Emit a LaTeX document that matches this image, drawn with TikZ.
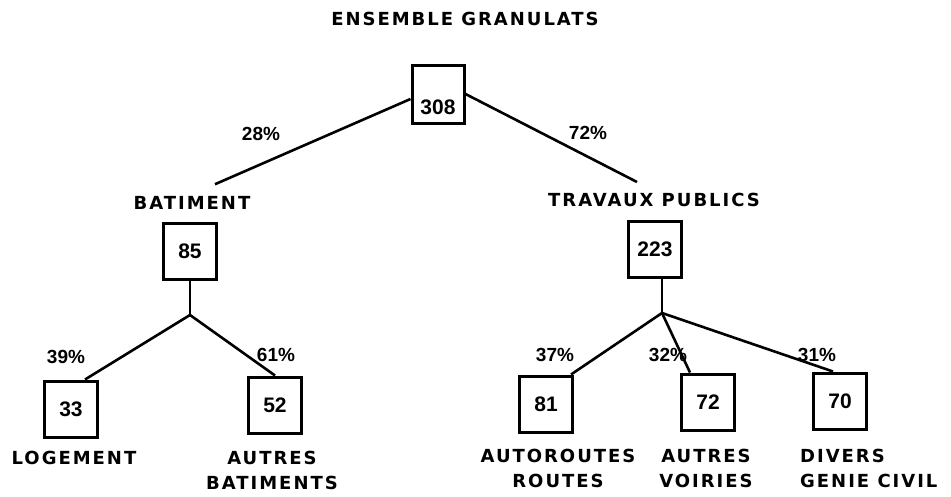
\documentclass[tikz,border=0pt]{standalone}
\usepackage{fontspec}
\setmainfont{Liberation Sans}
\newfontfamily\capsfont[LetterSpace=11]{DejaVu Sans}

\begin{document}
\begin{tikzpicture}[x=1pt, y=-1pt,
  every node/.style={font=\capsfont\bfseries\fontsize{18}{25}\selectfont},
  box/.style={draw, line width=3pt, minimum width=53pt, minimum height=56pt, inner sep=0pt, font=\bfseries\fontsize{21}{24}\selectfont},
  pct/.style={font=\bfseries\fontsize{19}{21}\selectfont},
  titre/.style={align=center, inner sep=2pt},
  branch/.style={line width=2.6pt}]

\useasboundingbox (0,0) rectangle (951,496);

% Root
\node (title) at (465,19) {ENSEMBLE GRANULATS};
\node[box, minimum width=52pt, minimum height=58pt, text height=40pt, text depth=0pt] (root) at (438,94) {308};

% Level 1 branches
\node[titre] (bat) at (192,203) {BATIMENT};
\node[titre] (tp) at (654,200) {TRAVAUX PUBLICS};
\node[box] (b85) at (190,251) {85};
\node[box] (tp223) at (655,249) {223};

\draw[branch] ([yshift=-5pt]root.west) -- ([xshift=23pt,yshift=10pt]bat.north);
\draw[branch] (root.east) -- ([xshift=-17pt,yshift=9pt]tp.north);

\node[pct] (p28) at (261,134) {28\%};
\node[pct] (p72) at (588,133) {72\%};

% Level 2: parts
\coordinate (j1) at (190,315);
\coordinate (j2) at (662,313);

\node[box] (l33) at (71,409) {33};
\node[box] (ab52) at (275,405) {52};
\node[box] (ar81) at (546,404) {81};
\node[box] (av72) at (708,402) {72};
\node[box] (dg70) at (840,401) {70};

\draw[branch] (b85.south) -- (j1);
\draw[branch] (j1) -- ([xshift=14pt]l33.north);
\draw[branch] (j1) -- (ab52.north);
\draw[branch] (tp223.south -| j2) -- (j2);
\draw[branch] (j2) -- ([xshift=-3pt]ar81.north east);
\draw[branch] (j2) -- ([xshift=-18pt]av72.north);
\draw[branch] (j2) -- ([xshift=-7pt]dg70.north);

\node[pct] (p39) at (66,357) {39\%};
\node[pct] (p61) at (276,355) {61\%};
\node[pct] (p37) at (555,355) {37\%};
\node[pct] (p32) at (668,355) {32\%};
\node[pct] (p31) at (817,355) {31\%};

\node[titre] (logt) at (74,458) {LOGEMENT};
\node[titre] (abt) at (272,470) {AUTRES\\BATIMENTS};
\node[titre] (art) at (558,468) {AUTOROUTES\\ROUTES};
\node[titre] (avt) at (706,468) {AUTRES\\VOIRIES};
\node[titre, align=left, anchor=west] (dgt) at (798,468) {DIVERS\\GENIE CIVIL};

\end{tikzpicture}
\end{document}
